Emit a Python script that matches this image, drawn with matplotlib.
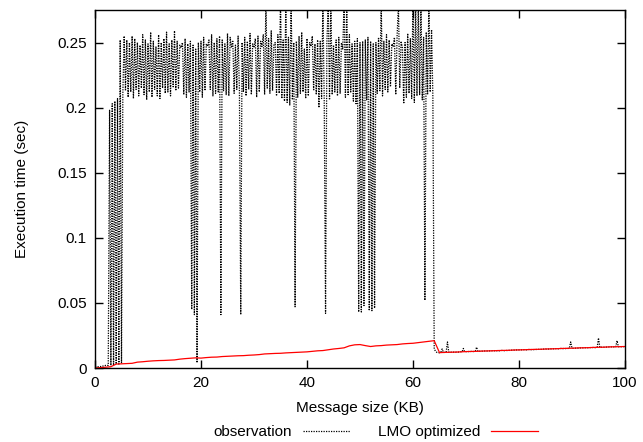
import numpy as np
import matplotlib
matplotlib.use("Agg")
import matplotlib.pyplot as plt

plt.rcParams["font.family"] = ["Liberation Sans", "DejaVu Sans"]

# Message sizes (KB) for the measured series: one sample every 0.25 KB
obs_step = 0.25
obs_start = 0.0

# Measured execution time (sec), four samples per KB, grouped by KB
obs_small = [
    0.001, 0.001, 0.001, 0.001,
    0.001, 0.0015, 0.0015, 0.0015,
    0.002, 0.002, 0.002, 0.198,
    0.002, 0.203, 0.002, 0.205,
    0.003, 0.207, 0.003, 0.252,
    0.004, 0.210, 0.255, 0.213,
]
obs_mid = [
    0.252, 0.208, 0.250, 0.212,
    0.255, 0.207, 0.253, 0.214,
    0.250, 0.209, 0.248, 0.215,
    0.256, 0.210, 0.252, 0.206,
    0.249, 0.212, 0.258, 0.208,
    0.251, 0.214, 0.247, 0.209,
    0.256, 0.207, 0.250, 0.215,
    0.253, 0.211, 0.258, 0.212,
    0.249, 0.209, 0.252, 0.216,
    0.259, 0.213, 0.251, 0.215,
    0.248, 0.246, 0.250, 0.210,
    0.253, 0.208, 0.249, 0.212,
    0.251, 0.045, 0.248, 0.041,
    0.245, 0.004, 0.250, 0.212,
    0.251, 0.208, 0.254, 0.213,
    0.249, 0.247, 0.252, 0.214,
    0.256, 0.209, 0.250, 0.211,
    0.253, 0.212, 0.255, 0.041,
    0.252, 0.213, 0.249, 0.210,
    0.257, 0.209, 0.254, 0.246,
    0.251, 0.211, 0.248, 0.214,
    0.255, 0.213, 0.041, 0.250,
    0.212, 0.254, 0.209, 0.251,
    0.214, 0.257, 0.210, 0.249,
    0.246, 0.253, 0.208, 0.255,
    0.212, 0.251, 0.247, 0.256,
    0.210, 0.282, 0.215, 0.253,
    0.211, 0.259, 0.213, 0.248,
    0.250, 0.209, 0.256, 0.211,
    0.285, 0.207, 0.252, 0.205,
    0.280, 0.204, 0.254, 0.202,
    0.283, 0.206, 0.250, 0.047,
    0.251, 0.208, 0.255, 0.211,
    0.258, 0.212, 0.245, 0.207,
    0.253, 0.209, 0.250, 0.247,
    0.255, 0.213, 0.249, 0.210,
    0.252, 0.200, 0.251, 0.207,
    0.281, 0.205, 0.042, 0.250,
    0.279, 0.206, 0.283, 0.210,
    0.248, 0.212, 0.252, 0.209,
    0.254, 0.211, 0.250, 0.245,
    0.282, 0.208, 0.280, 0.210,
    0.256, 0.212, 0.249, 0.205,
    0.251, 0.203, 0.253, 0.043,
    0.250, 0.043, 0.251, 0.048,
    0.252, 0.206, 0.254, 0.044,
    0.251, 0.044, 0.249, 0.046,
    0.250, 0.211, 0.254, 0.213,
    0.283, 0.209, 0.251, 0.214,
    0.256, 0.212, 0.252, 0.216,
    0.249, 0.247, 0.254, 0.210,
    0.255, 0.280, 0.215, 0.251,
    0.246, 0.203, 0.250, 0.208,
    0.257, 0.211, 0.253, 0.207,
    0.284, 0.204, 0.281, 0.209,
    0.282, 0.210, 0.279, 0.206,
    0.254, 0.052, 0.258, 0.210,
    0.281, 0.212, 0.260, 0.208,
]
obs_large = [
    0.0145, 0.0130, 0.0120, 0.0118,
    0.0117, 0.0120, 0.0146, 0.0119,
    0.0120, 0.0121, 0.0200, 0.0121,
    0.0119, 0.0122, 0.0120, 0.0123,
    0.0121, 0.0124, 0.0122, 0.0123,
    0.0125, 0.0123, 0.0150, 0.0124,
    0.0126, 0.0124, 0.0127, 0.0125,
    0.0128, 0.0126, 0.0127, 0.0129,
    0.0160, 0.0127, 0.0129, 0.0128,
    0.0130, 0.0128, 0.0131, 0.0129,
    0.0131, 0.0130, 0.0132, 0.0131,
    0.0133, 0.0131, 0.0134, 0.0132,
    0.0134, 0.0132, 0.0133, 0.0135,
    0.0135, 0.0133, 0.0136, 0.0134,
    0.0137, 0.0135, 0.0136, 0.0138,
    0.0138, 0.0136, 0.0139, 0.0137,
    0.0139, 0.0138, 0.0140, 0.0139,
    0.0141, 0.0139, 0.0140, 0.0142,
    0.0142, 0.0140, 0.0143, 0.0141,
    0.0143, 0.0142, 0.0144, 0.0143,
    0.0145, 0.0143, 0.0146, 0.0144,
    0.0146, 0.0144, 0.0145, 0.0147,
    0.0147, 0.0146, 0.0148, 0.0146,
    0.0149, 0.0147, 0.0148, 0.0150,
    0.0150, 0.0148, 0.0151, 0.0149,
    0.0151, 0.0150, 0.0152, 0.0200,
    0.0152, 0.0151, 0.0153, 0.0152,
    0.0154, 0.0152, 0.0155, 0.0153,
    0.0155, 0.0154, 0.0156, 0.0155,
    0.0156, 0.0155, 0.0157, 0.0156,
    0.0158, 0.0156, 0.0157, 0.0159,
    0.0230, 0.0158, 0.0160, 0.0159,
    0.0160, 0.0159, 0.0161, 0.0160,
    0.0162, 0.0160, 0.0163, 0.0161,
    0.0163, 0.0162, 0.0210, 0.0163,
    0.0164, 0.0163, 0.0165, 0.0164,
    0.0165,
]
observation = obs_small + obs_mid + obs_large
obs_sizes = obs_start + obs_step * np.arange(len(observation))

# LMO-optimized model prediction (sec), one value per KB from 0 to 100
lmo_sizes = list(range(0, 101))
lmo_time = [
    0.0000, 0.0003, 0.0006, 0.0010, 0.0030, 0.0032, 0.0034, 0.0036, 0.0045, 0.0048,
    0.0052, 0.0055, 0.0057, 0.0058, 0.0060, 0.0062, 0.0068, 0.0072, 0.0075, 0.0078,
    0.0076, 0.0080, 0.0083, 0.0084, 0.0088, 0.0090, 0.0092, 0.0094, 0.0095, 0.0098,
    0.0100, 0.0103, 0.0108, 0.0110, 0.0112, 0.0113, 0.0116, 0.0118, 0.0120, 0.0122,
    0.0124, 0.0128, 0.0132, 0.0134, 0.0140, 0.0146, 0.0150, 0.0155, 0.0170, 0.0178,
    0.0180, 0.0172, 0.0165, 0.0170, 0.0172, 0.0176, 0.0178, 0.0180, 0.0185, 0.0188,
    0.0190, 0.0195, 0.0200, 0.0205, 0.0210, 0.0118, 0.0120, 0.0121, 0.0122, 0.0124,
    0.0126, 0.0127, 0.0128, 0.0130, 0.0131, 0.0132, 0.0134, 0.0135, 0.0136, 0.0138,
    0.0139, 0.0140, 0.0142, 0.0143, 0.0144, 0.0146, 0.0147, 0.0148, 0.0150, 0.0151,
    0.0152, 0.0154, 0.0155, 0.0156, 0.0158, 0.0159, 0.0160, 0.0162, 0.0163, 0.0164,
    0.0165,
]

x_ticks = [0, 20, 40, 60, 80, 100]
y_ticks = [0, 0.05, 0.1, 0.15, 0.2, 0.25]
y_tick_labels = ["0", "0.05", "0.1", "0.15", "0.2", "0.25"]

fig = plt.figure(figsize=(6.43, 4.42), dpi=100)
ax = fig.add_axes([95 / 643, 1 - 368 / 442, 530 / 643, 358 / 442])

ax.plot(obs_sizes, observation, color="black", lw=0.9,
        linestyle=(0, (1.0, 1.0)), label="observation")
ax.plot(lmo_sizes, lmo_time, color="#ff0000", lw=0.9, label="LMO optimized")

ax.set_xlim(0, 100)
ax.set_ylim(0, 0.275)
ax.set_xticks(x_ticks)
ax.set_xticklabels([str(t) for t in x_ticks])
ax.set_yticks(y_ticks)
ax.set_yticklabels(y_tick_labels)
ax.tick_params(direction="in", length=6, width=1, top=True, right=True,
               labelsize=11, pad=6)
for s in ax.spines.values():
    s.set_linewidth(1)

ax.set_xlabel("Message size (KB)", fontsize=11, labelpad=8)
ax.set_ylabel("Execution time (sec)", fontsize=11, labelpad=20)

leg = ax.legend(loc="lower center", bbox_to_anchor=(0.53, -0.228), ncol=2,
                frameon=False, markerfirst=False, fontsize=11,
                handlelength=3.1, columnspacing=1.8, handletextpad=0.7,
                borderpad=0.2)

fig.savefig("out.png", dpi=100)
